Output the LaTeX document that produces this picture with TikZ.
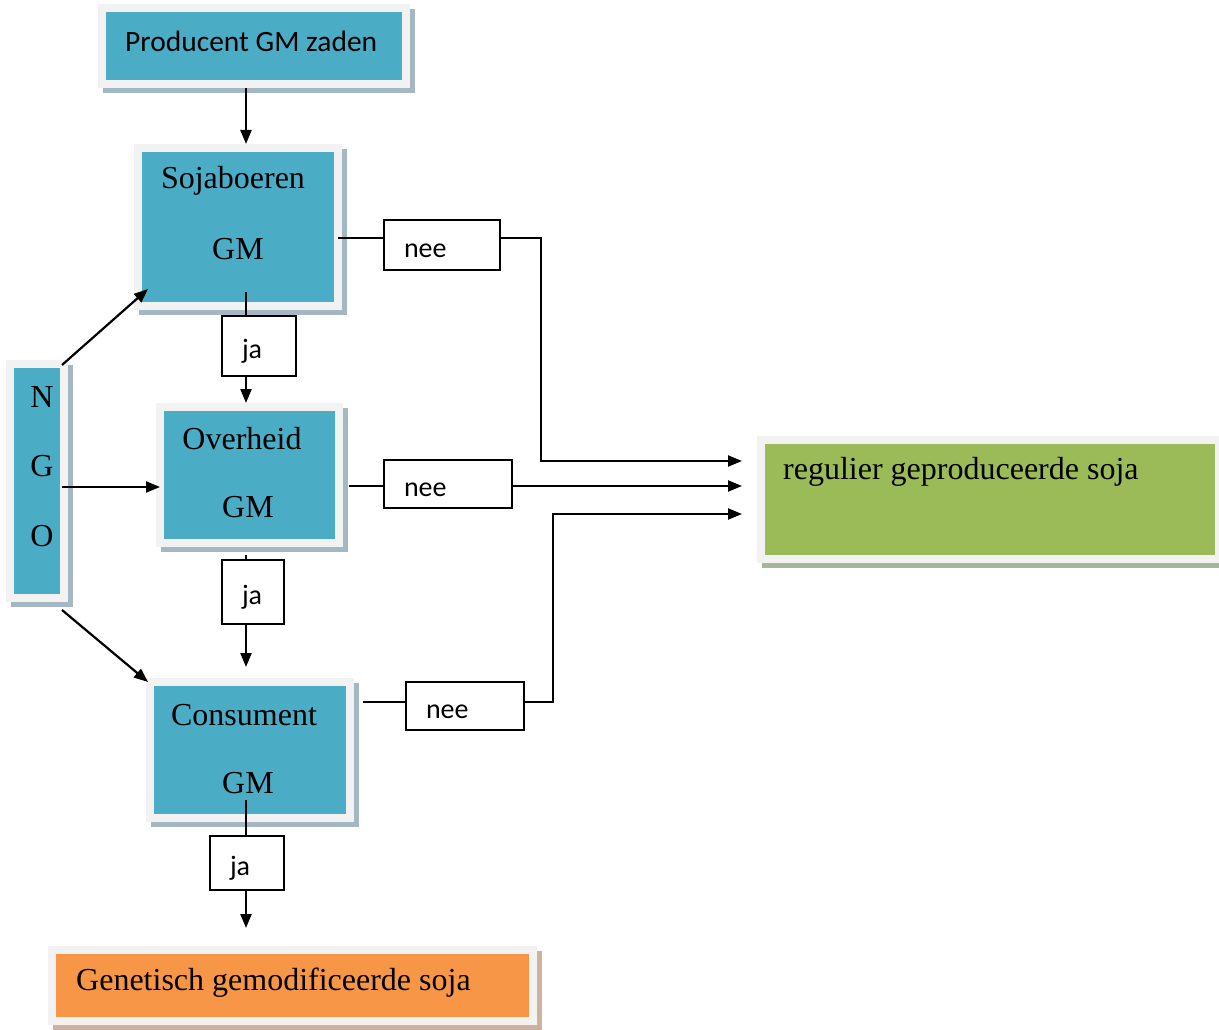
\documentclass[tikz,border=0pt]{standalone}
\usepackage{fontspec}
\setmainfont{Liberation Serif}
\newfontfamily\calib{Carlito}
\usetikzlibrary{arrows.meta}
\definecolor{boxteal}{HTML}{4BACC6}
\definecolor{boxgreen}{HTML}{9BBB59}
\definecolor{boxorange}{HTML}{F79646}
\definecolor{rim}{HTML}{F2F2F2}
\definecolor{shteal}{HTML}{A3B8C2}
\definecolor{shgreen}{HTML}{A9B59A}
\definecolor{shorange}{HTML}{CFB29E}
\newcommand{\shbox}[7]{% name x1 y1 x2 y2 fill shadow
  \fill[#7] (#2+5,#3+5) rectangle (#4+5,#5+5);
  \pgfmathsetmacro{\bw}{#4-#2-8}\pgfmathsetmacro{\bh}{#5-#3-8}%
  \pgfmathsetmacro{\bx}{(#2+#4)/2}\pgfmathsetmacro{\by}{(#3+#5)/2}%
  \node[draw=rim, line width=8pt, fill=#6, inner sep=0pt,
        minimum width=\bw pt, minimum height=\bh pt] (#1) at (\bx,\by) {};}
\begin{document}
\begin{tikzpicture}[x=1pt,y=-1pt,
  serif/.style={font=\fontsize{32}{36}\selectfont, inner sep=0pt},
  sans/.style={font=\calib\fontsize{29.5}{34}\selectfont, inner sep=0pt},
  lab/.style={draw=black, line width=1.6pt, fill=white, font=\calib\fontsize{28}{32}\selectfont,
              inner xsep=20pt, inner ysep=0pt, align=left, text height=24pt, text depth=0pt},
  con/.style={line width=2.2pt, draw=black},
  arr/.style={con, -{Triangle[length=14pt,width=11pt]}}]
\useasboundingbox (0,0) rectangle (1219,1030);
\fill[white] (0,0) rectangle (1219,1030);

% boxes
\shbox{prod}{98}{4}{410}{88}{boxteal}{shteal}
\node[sans, anchor=west] (prodT) at (125,41) {Producent GM zaden};

\shbox{soja}{134}{144}{342}{310}{boxteal}{shteal}
\node[serif] (sojaT1) at (233,181) {Sojaboeren};
\node[serif] (sojaT2) at (238,249) {GM};

\shbox{over}{156}{403}{343}{547}{boxteal}{shteal}
\node[serif] (overT1) at (242,439) {Overheid};
\node[serif] (overT2) at (248,507) {GM};

\shbox{cons}{146}{678}{354}{822}{boxteal}{shteal}
\node[serif] (consT1) at (244,715) {Consument};
\node[serif] (consT2) at (248,783) {GM};

\shbox{ngo}{6}{360}{68}{602}{boxteal}{shteal}
\node[serif] (ngoN) at (42,397) {N};
\node[serif] (ngoG) at (42,466) {G};
\node[serif] (ngoO) at (42,536) {O};

\shbox{reg}{757}{436}{1223}{563}{boxgreen}{shgreen}
\node[serif, anchor=west] (regT) at (783,472) {regulier geproduceerde soja};

\shbox{gen}{48}{946}{537}{1025}{boxorange}{shorange}
\node[serif, anchor=west] (genT) at (76,983) {Genetisch gemodificeerde soja};

% label boxes
\node[lab, minimum width=116pt, minimum height=50pt, text width=76pt] (nee1) at (442,245) {nee};
\node[lab, minimum width=74pt, minimum height=60pt, text width=34pt] (ja1) at (259,346) {ja};
\node[lab, minimum width=128pt, minimum height=48pt, text width=88pt] (nee2) at (448,484) {nee};
\node[lab, minimum width=62pt, minimum height=64pt, text width=22pt] (ja2) at (253,592) {ja};
\node[lab, minimum width=118pt, minimum height=48pt, text width=78pt] (nee3) at (465,706) {nee};
\node[lab, minimum width=74pt, minimum height=54pt, text width=34pt] (ja3) at (247,863) {ja};

% helper coordinates
\coordinate (cx) at (246,0);
\coordinate (sojaIn) at (246,292);
\coordinate (overOut) at (246,555);
\coordinate (consTip) at (246,667);
\coordinate (consIn) at (246,800);
\coordinate (genTip) at (246,928);
\coordinate (sojaR) at (338,238);
\coordinate (overR) at (349,486);
\coordinate (consR) at (363,702);
\coordinate (r1) at (742,461);
\coordinate (r2) at (742,486);
\coordinate (r3) at (742,514);
\coordinate (ngo1) at (62,365);
\coordinate (ngo2) at (62,487);
\coordinate (ngo3) at (62,610);
\coordinate (sojaTip) at (148,289);
\coordinate (overTip) at (160,487);
\coordinate (consTipL) at (148,682);

% vertical chain
\draw[arr] (prod.south -| cx) -- (soja.north -| cx);
\draw[con] (sojaIn) -- (ja1.north -| cx);
\draw[arr] (ja1.south -| cx) -- (over.north -| cx);
\draw[con] (overOut) -- (ja2.north -| cx);
\draw[arr] (ja2.south -| cx) -- (consTip);
\draw[con] (consIn) -- (ja3.north -| cx);
\draw[arr] (ja3.south -| cx) -- (genTip);

% nee branches
\draw[con] (sojaR) -- (nee1.west |- sojaR);
\draw[arr] (nee1.east |- sojaR) -- ++(40,0) |- (r1);
\draw[con] (overR) -- (nee2.west |- overR);
\draw[arr] (nee2.east |- overR) -- (r2);
\draw[con] (consR) -- (nee3.west |- consR);
\draw[arr] (nee3.east |- consR) -- ++(28,0) |- (r3);

% NGO arrows
\draw[arr] (ngo1) -- (sojaTip);
\draw[arr] (ngo2) -- (overTip);
\draw[arr] (ngo3) -- (consTipL);
\end{tikzpicture}
\end{document}
